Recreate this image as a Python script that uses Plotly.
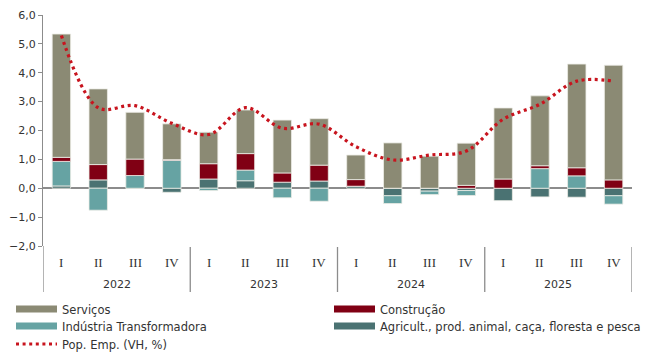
import plotly.graph_objects as go

# Quarterly contributions to employment growth (p.p.) and total employment (VH, %)
quarters = ["I", "II", "III", "IV"] * 4
years = ["2022", "2023", "2024", "2025"]

agricultura = [0.08, 0.29, 0.00, -0.14, 0.32, 0.26, 0.21, 0.25,
               0.07, -0.26, -0.10, -0.08, -0.43, -0.30, -0.31, -0.26]
industria = [0.85, -0.76, 0.44, 0.97, -0.08, 0.37, -0.33, -0.45,
             0.00, -0.27, -0.12, -0.17, 0.00, 0.68, 0.43, -0.29]
construcao = [0.14, 0.53, 0.57, 0.02, 0.53, 0.57, 0.32, 0.55,
              0.23, 0.00, 0.00, 0.10, 0.32, 0.10, 0.28, 0.29]
servicos = [4.27, 2.62, 1.62, 1.24, 1.09, 1.51, 1.83, 1.61,
            0.85, 1.57, 1.11, 1.46, 2.46, 2.42, 3.59, 3.97]
pop_emp = [5.29, 2.79, 2.86, 2.25, 1.86, 2.79, 2.08, 2.22,
           1.44, 0.98, 1.15, 1.29, 2.39, 2.91, 3.71, 3.71]

C_SERV = "#8b8a74"
C_CONS = "#800014"
C_IND = "#66a3a3"
C_AGR = "#4a7272"
C_LINE = "#c8141e"
AXIS = "#8c8c8c"
TXT = "#333333"

W, H = 654, 358
ML, MR, MT, MB = 43, 22, 15, 112
PW, PH = W - ML - MR, H - MT - MB


def px_x(px):
    return (px - ML) / PW


def px_y(py):
    return (H - MB - py) / PH


x = list(range(len(quarters)))

fig = go.Figure()

# (name, values, colour, legend id, legend left px, legend row y px)
bar_series = [
    ("Agricult., prod. animal, caça, floresta e pesca", agricultura, C_AGR, "legend4", 329, 326),
    ("Indústria Transformadora", industria, C_IND, "legend3", 11, 326),
    ("Construção", construcao, C_CONS, "legend2", 329, 309),
    ("Serviços", servicos, C_SERV, "legend", 11, 309),
]
legend_pos = {}
for name, vals, col, leg, lx, ly in bar_series:
    fig.add_trace(go.Bar(
        x=x, y=vals, name=name, width=0.5, showlegend=False,
        marker=dict(color=col, line=dict(color="#ecece6", width=0.8)),
        legendgroup=name,
    ))
    # flat swatch for the legend entry
    fig.add_trace(go.Scatter(
        x=[None], y=[None], mode="lines", name=name, legendgroup=name,
        line=dict(color=col, width=7), legend=leg,
    ))
    legend_pos[leg] = (lx, ly)

fig.add_trace(go.Scatter(
    x=x, y=pop_emp, mode="lines", name="Pop. Emp. (VH, %)",
    line=dict(color=C_LINE, width=3.2, dash="3px,3.6px", shape="spline", smoothing=1.0),
    legend="legend5",
))
legend_pos["legend5"] = (11, 344)

# year dividers below the axis
below = px_y(292)
shapes = [dict(type="line", xref="x", yref="paper", x0=-0.5, x1=-0.5, y0=0, y1=below,
               line=dict(color=AXIS, width=1.3))]
for b in (3.5, 7.5, 11.5, 15.5):
    shapes.append(dict(type="line", xref="x", yref="paper", x0=b, x1=b,
                       y0=px_y(247), y1=below, line=dict(color=AXIS, width=1.3)))

annotations = []
for i, q in enumerate(quarters):
    annotations.append(dict(x=i, xref="x", y=px_y(262), yref="paper",
                            text=q, showarrow=False, yanchor="middle",
                            font=dict(family="Liberation Serif", size=13, color=TXT)))
for k, yr in enumerate(years):
    annotations.append(dict(x=4 * k + 1.5, xref="x", y=px_y(284), yref="paper",
                            text=yr, showarrow=False, yanchor="middle",
                            font=dict(family="DejaVu Sans", size=11, color=TXT)))

legends = {}
for leg, (lx, ly) in legend_pos.items():
    legends[leg] = dict(
        orientation="v", x=px_x(lx), xanchor="left", y=px_y(ly), yanchor="middle",
        font=dict(family="DejaVu Sans", size=11.5, color=TXT),
        itemwidth=41, bgcolor="rgba(0,0,0,0)", borderwidth=0,
    )

fig.update_layout(
    width=W, height=H,
    margin=dict(l=ML, r=MR, t=MT, b=MB, autoexpand=False),
    paper_bgcolor="white", plot_bgcolor="white",
    barmode="relative",
    separators=",.",
    font=dict(family="DejaVu Sans", size=11, color=TXT),
    shapes=shapes, annotations=annotations,
    showlegend=True,
    xaxis=dict(range=[-0.5, 15.5], showticklabels=False, ticks="", showgrid=False,
               zeroline=False, showline=False, fixedrange=True),
    yaxis=dict(range=[-2, 6], dtick=1, tickformat=".1f", showgrid=False,
               zeroline=True, zerolinecolor=AXIS, zerolinewidth=1.5,
               showline=True, linecolor=AXIS, linewidth=1.3,
               ticks="outside", ticklen=4, tickcolor=AXIS,
               tickfont=dict(family="DejaVu Sans", size=11, color=TXT)),
    **legends,
)

fig.write_html("out.html")
